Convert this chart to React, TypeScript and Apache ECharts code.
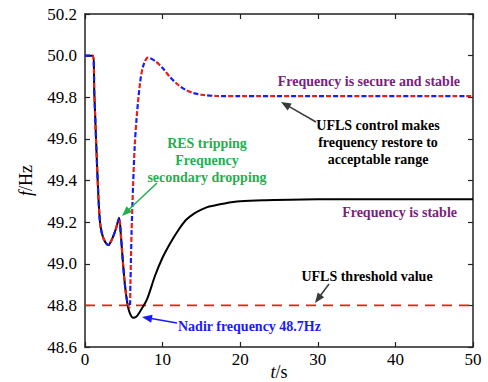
import React, { useEffect, useRef } from "react";
import * as echarts from "echarts";

// Time (s) and frequency (Hz) of the case without UFLS (black solid)
const tNoUfls = [0, 1.0, 1.2, 1.4, 1.6, 1.8, 2.0, 2.4, 3.0, 3.5, 4.0, 4.4, 4.6, 4.9, 5.2, 5.5, 5.8, 6.2, 6.6, 7.0, 8, 9, 10, 11, 12, 13, 14, 15, 16, 18, 20, 23, 30, 50];
const fNoUfls = [50.0, 50.0, 49.82, 49.62, 49.43, 49.27, 49.18, 49.12, 49.09, 49.12, 49.17, 49.22, 49.15, 49.0, 48.88, 48.8, 48.76, 48.74, 48.745, 48.765, 48.83, 48.94, 49.03, 49.1, 49.16, 49.21, 49.24, 49.26, 49.275, 49.29, 49.3, 49.305, 49.31, 49.31];

// Time (s) and frequency (Hz) of the case with UFLS (red/blue dashed)
const tUfls = [0, 1.0, 1.2, 1.4, 1.6, 1.8, 2.0, 2.4, 3.0, 3.5, 4.0, 4.4, 4.6, 4.9, 5.2, 5.5, 5.75, 5.85, 6.0, 6.2, 6.4, 6.65, 7.1, 7.5, 8.1, 9, 10, 11, 12, 13, 14, 15, 17, 20, 50];
const fUfls = [50.0, 50.0, 49.82, 49.62, 49.43, 49.27, 49.18, 49.12, 49.09, 49.12, 49.17, 49.22, 49.15, 49.0, 48.88, 48.81, 48.79, 48.9, 49.15, 49.38, 49.56, 49.7, 49.87, 49.95, 49.99, 49.975, 49.94, 49.895, 49.86, 49.835, 49.82, 49.812, 49.806, 49.805, 49.805];

// UFLS threshold
const tThreshold = [0, 50];
const fThreshold = [48.8, 48.8];

const xTicks = { min: 0, max: 50, interval: 10 };
const yTicks = { min: 48.6, max: 50.2, interval: 0.2 };

const zip = (a: number[], b: number[]) => a.map((v, i) => [v, b[i]]);

const SERIF = "Liberation Serif";

function arrow(x1: number, y1: number, x2: number, y2: number, color: string, width = 1.5) {
  const dx = x2 - x1;
  const dy = y2 - y1;
  const len = Math.sqrt(dx * dx + dy * dy);
  const ux = dx / len;
  const uy = dy / len;
  const hl = 10;
  const hw = 4;
  const bx = x2 - ux * hl;
  const by = y2 - uy * hl;
  return [
    {
      type: "line",
      shape: { x1, y1, x2: bx + ux * 2, y2: by + uy * 2 },
      style: { stroke: color, lineWidth: width },
      z: 100,
    },
    {
      type: "polygon",
      shape: {
        points: [
          [x2, y2],
          [bx - uy * hw, by + ux * hw],
          [bx + uy * hw, by - ux * hw],
        ],
      },
      style: { fill: color },
      z: 100,
    },
  ];
}

function label(text: string, x: number, y: number, color: string, align: string) {
  return {
    type: "text",
    x,
    y,
    z: 100,
    style: {
      text,
      fill: color,
      fontFamily: SERIF,
      fontWeight: "bold",
      fontSize: 14,
      align,
      verticalAlign: "middle",
      lineHeight: 17,
    },
  };
}

export default function App() {
  const ref = useRef<HTMLDivElement>(null);

  useEffect(() => {
    if (!ref.current) return;
    const chart = echarts.init(ref.current, undefined, { renderer: "svg" });
    const axisLine = { show: true, onZero: false, lineStyle: { color: "#222", width: 1.5 } };
    const tick = { show: true, inside: true, length: 5, lineStyle: { color: "#222", width: 1.2 } };
    const purple = "#7a1f7c";
    const green = "#1fb050";
    const dark = "#3a3a3a";
    const blue = "#1a1aff";
    const nameStyle = {
      color: "#000",
      fontFamily: SERIF,
      fontSize: 18,
      lineHeight: 18,
      rich: {
        i: { fontStyle: "italic", fontFamily: SERIF, fontSize: 18, lineHeight: 18, color: "#000" },
        n: { fontFamily: SERIF, fontSize: 18, lineHeight: 18, color: "#000" },
      },
    };

    chart.setOption({
      animation: false,
      backgroundColor: "#fff",
      textStyle: { fontFamily: SERIF },
      grid: { left: 85, right: 15, top: 14, bottom: 35, outerBoundsMode: "none", containLabel: false },
      xAxis: [
        {
          type: "value",
          position: "bottom",
          ...xTicks,
          axisLine,
          axisTick: tick,
          splitLine: { show: false },
          axisLabel: { color: "#000", fontFamily: SERIF, fontSize: 17, margin: 4 },
          name: "{i|t}{n|/s}",
          nameLocation: "middle",
          nameGap: 16,
          nameMoveOverlap: false,
          nameTextStyle: nameStyle,
        },
        {
          type: "value",
          position: "top",
          ...xTicks,
          axisLine,
          axisTick: tick,
          splitLine: { show: false },
          axisLabel: { show: false },
        },
      ],
      yAxis: [
        {
          type: "value",
          position: "left",
          ...yTicks,
          axisLine,
          axisTick: tick,
          splitLine: { show: false },
          axisLabel: {
            color: "#000",
            fontFamily: SERIF,
            fontSize: 17,
            margin: 8,
            formatter: (v: number) => v.toFixed(1),
          },
          name: "{i|f}{n|/Hz}",
          nameLocation: "middle",
          nameGap: 50,
          nameMoveOverlap: false,
          nameTextStyle: nameStyle,
        },
        {
          type: "value",
          position: "right",
          ...yTicks,
          axisLine,
          axisTick: tick,
          splitLine: { show: false },
          axisLabel: { show: false },
        },
      ],
      series: [
        {
          type: "line",
          data: zip(tThreshold, fThreshold),
          showSymbol: false,
          symbol: "none",
          lineStyle: { color: "#ee1c1c", width: 1.6, type: [10, 7] },
        },
        {
          type: "line",
          data: zip(tNoUfls, fNoUfls),
          showSymbol: false,
          symbol: "none",
          smooth: 0.3,
          lineStyle: { color: "#000", width: 2 },
        },
        {
          type: "line",
          data: zip(tUfls, fUfls),
          showSymbol: false,
          symbol: "none",
          smooth: 0.3,
          lineStyle: { color: "#ee1c1c", width: 2.2, type: [5, 9], dashOffset: 7 },
        },
        {
          type: "line",
          data: zip(tUfls, fUfls),
          showSymbol: false,
          symbol: "none",
          smooth: 0.3,
          lineStyle: { color: blue, width: 2.2, type: [5, 9] },
        },
      ],
      graphic: [
        label("Frequency is secure and stable", 460, 81, purple, "right"),
        label("UFLS control makes\nfrequency restore to\nacceptable range", 378, 142, "#000", "center"),
        ...arrow(316, 122, 281, 102, dark),
        label("RES tripping\nFrequency\nsecondary dropping", 207, 160, green, "center"),
        ...arrow(157, 183, 122, 216, green),
        label("Frequency is stable", 457, 212, purple, "right"),
        label("UFLS threshold value", 367, 276, "#000", "center"),
        ...arrow(329, 284, 315, 303, dark),
        label("Nadir frequency 48.7Hz", 178, 326, blue, "left"),
        ...arrow(177, 323, 142, 317, blue),
      ],
    });
    return () => chart.dispose();
  }, []);

  return (
    <div
      ref={ref}
      style={{ position: "fixed", left: 0, top: 0, width: 488, height: 382, background: "#fff" }}
    />
  );
}
